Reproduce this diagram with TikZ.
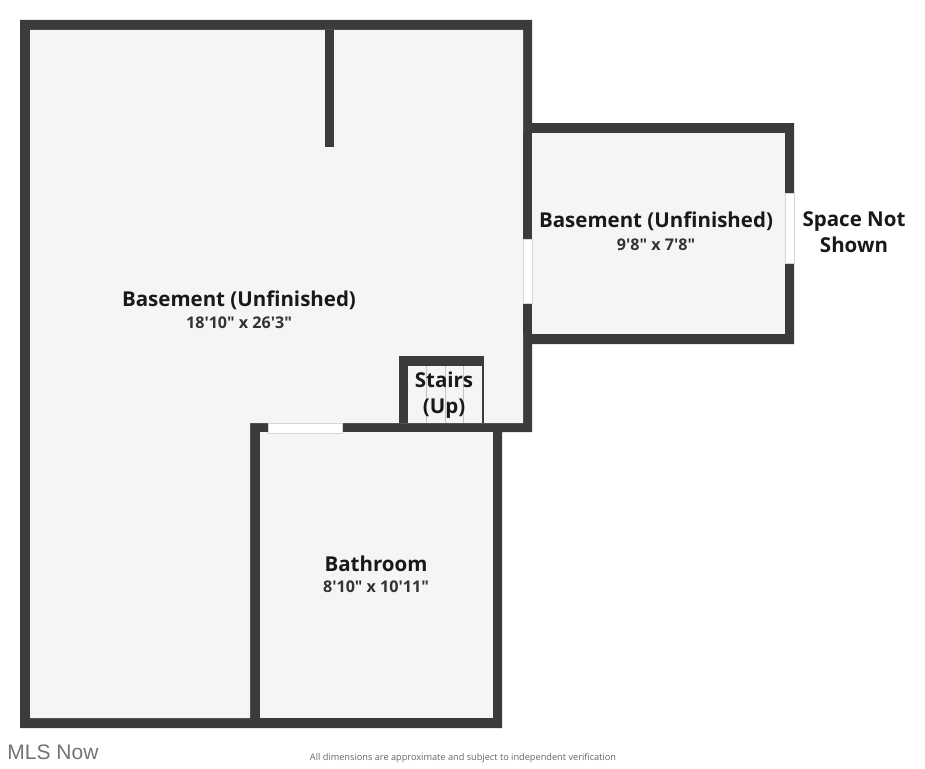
\documentclass[tikz,border=0pt]{standalone}
\usepackage{fontspec}
\defaultfontfeatures[\rmfamily]{}
\setmainfont{Open Sans}
\newfontfamily\logofont{Liberation Sans}
\definecolor{wallgray}{HTML}{3B3B3B}
\definecolor{floorgray}{HTML}{F5F5F5}
\definecolor{treadgray}{HTML}{C4C4C4}
\begin{document}
\begin{tikzpicture}[x=1pt,y=-1pt,
            wall/.style = {fill=wallgray},
            floor/.style = {fill=floorgray},
            opening/.style = {fill=white,draw=treadgray!70,line width=0.5pt},
            tread/.style = {draw=treadgray,line width=0.8pt},
            title/.style = {align=center,font=\bfseries\fontsize{20.5}{26}\selectfont,text=black!90,inner sep=0pt},
            dims/.style = {align=center,font=\bfseries\fontsize{16.1}{18}\selectfont,text=black!80,inner sep=0pt}]
            \useasboundingbox (0,0) rectangle (925,768);
            % walls, then floors on top
            \path[wall] (20,20) -- (532,20) -- (532,123) -- (794,123) -- (794,344)
                -- (532,344) -- (532,432) -- (502,432) -- (502,728) -- (20,728) -- cycle;
            \path[floor] (30,30) -- (523,30) -- (523,423) -- (250,423) -- (250,718) -- (30,718) -- cycle;
            \path[floor] (532,133) rectangle (785,334);
            \path[floor] (260,432) rectangle (493,718);
            \path[wall] (523,133) rectangle (532,334);
            % inner walls
            \path[wall] (325,30) rectangle (334,147);
            \path[wall] (399,356) rectangle (484,366);
            \path[wall] (399,356) rectangle (408,423);
            \path[floor] (408,366) rectangle (482,423);
            \path[wall] (482,366) rectangle (484,423);
            \foreach \treadx in {426,445,463}
                \draw[tread] (\treadx,366) -- (\treadx,423);
            % windows
            \path[opening] (268,423) rectangle (342,433);
            \path[opening] (523,239) rectangle (532,303);
            \path[opening] (785,193) rectangle (794,263);
            % labels
            \node[title] (main) at (239,300.5) {Basement (Unfinished)};
            \node[dims] (maindim) at (239,323) {18'10" x 26'3"};
            \node[title] (side) at (656,221.5) {Basement (Unfinished)};
            \node[dims] (sidedim) at (656,244.5) {9'8" x 7'8"};
            \node[title] (notshown) at (854,232) {Space Not\\Shown};
            \node[title] (stairs) at (444,395) {Stairs\\(Up)};
            \node[title] (bath) at (376,564) {Bathroom};
            \node[dims] (bathdim) at (376,587) {8'10" x 10'11"};
            \node[inner sep=0pt,text=black!55,font=\logofont\fontsize{21}{23}\selectfont] (logo) at (53,752) {MLS Now};
            \node[inner sep=0pt,text=black!60,font=\fontsize{9.2}{11}\selectfont] (note) at (463,758.5) {All dimensions are approximate and subject to independent verification};
        \end{tikzpicture}
\end{document}
